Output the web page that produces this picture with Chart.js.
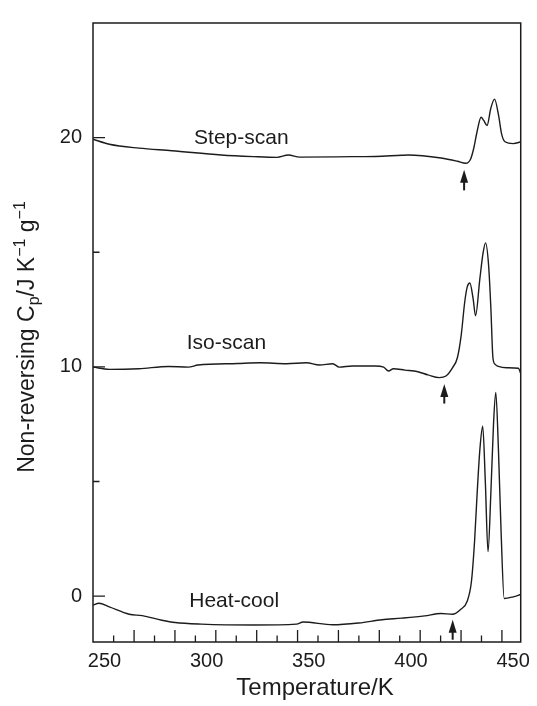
<!DOCTYPE html>
<html lang="en">
<head>
<meta charset="UTF-8">
<title>Non-reversing Cp</title>
<script src="https://cdn.jsdelivr.net/npm/chart.js"></script>
<style>
    html, body { margin: 0; padding: 0; background: #fff; }
    #wrap { width: 537px; height: 706px; }
</style>
</head>
<body>
<div id="wrap"><canvas id="grafica" width="537" height="706"></canvas></div>
<script>
    // curves (temperature in K, Cp with the vertical offsets of the figure)
    const stepT  = [244.4, 252.4, 266.9, 283.0, 307.1, 323.1, 334.4, 340.0, 345.6, 371.3, 382.6, 395.4, 398.6, 414.7, 422.7, 426.8, 429.2, 430.8, 432.4, 434.3, 435.6, 437.2, 439.1, 440.9, 442.8, 444.4, 446.0, 450.0, 454.0];
    const stepCp = [19.93, 19.71, 19.54, 19.43, 19.24, 19.17, 19.14, 19.24, 19.15, 19.17, 19.18, 19.23, 19.24, 19.11, 18.97, 18.88, 19.07, 19.57, 20.29, 20.89, 20.75, 20.53, 21.29, 21.68, 21.00, 20.14, 19.82, 19.74, 19.82];

    const isoT  = [244.4, 252.4, 266.9, 281.4, 291.0, 295.8, 315.1, 326.3, 339.2, 348.8, 355.2, 361.7, 364.9, 371.3, 382.6, 386.6, 389.0, 391.4, 397.0, 403.4, 408.3, 413.9, 417.1, 420.3, 422.7, 424.6, 426.3, 427.5, 428.8, 430.4, 431.6, 433.7, 435.3, 436.5, 438.0, 439.1, 440.1, 441.2, 442.8, 446.8, 452.5, 454.1];
    const isoCp = [9.99, 9.89, 9.92, 10.02, 9.99, 10.08, 10.15, 10.18, 10.14, 10.18, 10.08, 10.14, 9.99, 10.04, 10.04, 9.99, 9.82, 9.92, 9.86, 9.79, 9.65, 9.53, 9.60, 9.96, 10.40, 11.40, 12.83, 13.48, 13.66, 12.98, 12.23, 13.84, 14.98, 15.41, 14.41, 12.55, 10.40, 10.11, 10.02, 9.96, 9.94, 9.60];

    const heatT  = [244.4, 247.3, 252.4, 262.1, 268.5, 278.1, 284.6, 297.4, 323.1, 344.0, 347.2, 361.7, 374.5, 385.8, 395.4, 406.7, 414.7, 420.3, 424.4, 427.5, 429.6, 431.1, 432.4, 433.7, 435.1, 436.4, 437.7, 439.1, 440.4, 441.5, 442.8, 444.1, 445.6, 450.0, 453.7];
    const heatCp = [-0.39, -0.31, -0.47, -0.79, -0.85, -1.05, -1.15, -1.22, -1.26, -1.22, -1.13, -1.25, -1.17, -1.03, -0.96, -0.86, -0.76, -0.79, -0.57, -0.22, 0.65, 2.37, 4.52, 6.38, 7.41, 4.95, 1.94, 4.52, 7.53, 8.89, 6.38, 2.80, -0.10, -0.03, 0.07];

    // axis ticks
    const xTickLabels = [250, 300, 350, 400, 450];
    const xMajorMarks = [264.5, 284.5, 304.5, 324.5, 344.5, 364.5, 384.5, 404.5, 424.5, 444.5];
    const xMinorMarks = [254.5, 274.5, 294.5, 314.5, 334.5, 354.5, 374.5, 394.5, 414.5, 434.5];
    const yTickLabels = [0, 10, 20];
    const yMinorMarks = [5, 15];

    // curve names and onset arrows
    const curveNames = ['Step-scan', 'Iso-scan', 'Heat-cool'];
    const nameT  = [317, 309.7, 313.5];
    const nameCp = [19.71, 10.8, -0.47];
    const arrowT    = [426.0, 416.3, 420.4];
    const arrowTip  = [18.6, 9.25, -1.03];
    const arrowBase = [17.7, 8.4, -1.9];

    const FONT = '"Liberation Sans", Arial, Helvetica, sans-serif';
    const INK = '#1c1c1c';

    const pts = (xs, ys) => xs.map((x, i) => ({ x: x, y: ys[i] }));

    const decor = {
        id: 'decor',
        afterDraw(chart) {
            const ctx = chart.ctx;
            const xs = chart.scales.x, ys = chart.scales.y;
            const a = chart.chartArea;
            ctx.save();
            ctx.strokeStyle = INK;
            ctx.fillStyle = INK;

            // frame
            ctx.lineWidth = 1.5;
            ctx.strokeRect(a.left, a.top, a.right - a.left, a.bottom - a.top);

            // inward tick marks
            ctx.lineWidth = 1.3;
            ctx.beginPath();
            xMajorMarks.forEach(v => { const p = xs.getPixelForValue(v); ctx.moveTo(p, a.bottom); ctx.lineTo(p, a.bottom - 12); });
            xMinorMarks.forEach(v => { const p = xs.getPixelForValue(v); ctx.moveTo(p, a.bottom); ctx.lineTo(p, a.bottom - 6.5); });
            yTickLabels.forEach(v => { const p = ys.getPixelForValue(v); ctx.moveTo(a.left, p); ctx.lineTo(a.left + 12, p); });
            yMinorMarks.forEach(v => { const p = ys.getPixelForValue(v); ctx.moveTo(a.left, p); ctx.lineTo(a.left + 6.5, p); });
            ctx.stroke();

            // arrows
            arrowT.forEach((t, i) => {
                const px = xs.getPixelForValue(t);
                const tip = ys.getPixelForValue(arrowTip[i]);
                const base = ys.getPixelForValue(arrowBase[i]);
                ctx.beginPath();
                ctx.moveTo(px, tip);
                ctx.lineTo(px - 4, tip + 13);
                ctx.lineTo(px + 4, tip + 13);
                ctx.closePath();
                ctx.fill();
                ctx.lineWidth = 2;
                ctx.beginPath();
                ctx.moveTo(px, tip + 10);
                ctx.lineTo(px, base);
                ctx.stroke();
            });

            // curve names
            ctx.font = '21px ' + FONT;
            ctx.textAlign = 'center';
            ctx.textBaseline = 'alphabetic';
            curveNames.forEach((s, i) => {
                ctx.fillText(s, xs.getPixelForValue(nameT[i]), ys.getPixelForValue(nameCp[i]));
            });

            // x title
            ctx.font = '24px ' + FONT;
            ctx.fillText('Temperature/K', 315, 695);

            // y title with sub/superscripts
            const big = '23px ' + FONT, small = '16px ' + FONT;
            const parts = [
                { t: 'Non-reversing C', f: big, dy: 0 },
                { t: 'p', f: small, dy: 5 },
                { t: '/J K', f: big, dy: 0 },
                { t: '\u22121', f: small, dy: -9 },
                { t: ' g', f: big, dy: 0 },
                { t: '\u22121', f: small, dy: -9 }
            ];
            let total = 0;
            parts.forEach(p => { ctx.font = p.f; p.w = ctx.measureText(p.t).width; total += p.w; });
            ctx.translate(33.5, 337);
            ctx.rotate(-Math.PI / 2);
            ctx.textAlign = 'left';
            let cx = -total / 2;
            parts.forEach(p => { ctx.font = p.f; ctx.fillText(p.t, cx, p.dy); cx += p.w; });
            ctx.restore();
        }
    };

    const lineStyle = {
        borderColor: INK,
        borderWidth: 1.4,
        pointRadius: 0,
        fill: false,
        cubicInterpolationMode: 'monotone'
    };

    const ctx = document.getElementById('grafica').getContext('2d');
    const myChart = new Chart(ctx, {
        type: 'line',
        data: {
            datasets: [
                Object.assign({ label: curveNames[0], data: pts(stepT, stepCp) }, lineStyle),
                Object.assign({ label: curveNames[1], data: pts(isoT, isoCp) }, lineStyle),
                Object.assign({ label: curveNames[2], data: pts(heatT, heatCp) }, lineStyle)
            ]
        },
        options: {
            responsive: false,
            animation: false,
            devicePixelRatio: 1,
            layout: { padding: { left: 0, top: 14, right: 9, bottom: 0 } },
            plugins: { legend: { display: false }, tooltip: { enabled: false } },
            scales: {
                x: {
                    type: 'linear',
                    min: 244.4,
                    max: 453.7,
                    grid: { display: false, drawTicks: false },
                    border: { display: false },
                    afterBuildTicks: s => { s.ticks = xTickLabels.map(v => ({ value: v })); },
                    afterFit: s => { s.height = 64; },
                    ticks: { color: INK, font: { family: FONT, size: 20 }, padding: 7, maxRotation: 0, callback: v => v }
                },
                y: {
                    min: -2,
                    max: 25,
                    grid: { display: false, drawTicks: false },
                    border: { display: false },
                    afterBuildTicks: s => { s.ticks = yTickLabels.map(v => ({ value: v })); },
                    afterFit: s => { s.width = 93; },
                    ticks: { color: INK, font: { family: FONT, size: 20 }, padding: 11, callback: v => v }
                }
            }
        },
        plugins: [decor]
    });
</script>
</body>
</html>
